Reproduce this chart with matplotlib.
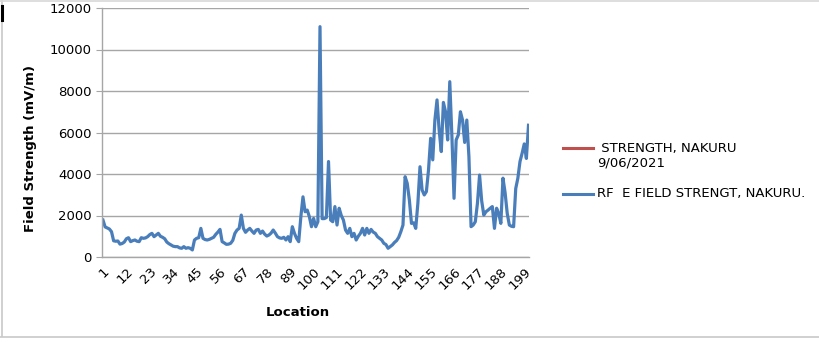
import numpy as np
import matplotlib
matplotlib.use("Agg")
import matplotlib.pyplot as plt
from matplotlib.lines import Line2D

# field strength readings (mV/m), one per location 1..201
strength = [
    1780, 1450, 1400, 1350, 1220, 780, 760, 770, 620, 650,
    720, 880, 930, 740, 790, 820, 760, 740, 930, 900,
    920, 980, 1080, 1140, 980, 1060, 1140, 1000, 950, 880,
    720, 640, 580, 520, 500, 500, 440, 420, 500, 420,
    450, 420, 340, 820, 900, 930, 1380, 900, 840, 820,
    850, 900, 950, 1090, 1200, 1330, 740, 680, 610, 620,
    660, 800, 1140, 1300, 1380, 2020, 1380, 1190, 1300, 1380,
    1250, 1140, 1300, 1330, 1140, 1250, 1100, 1010, 1060, 1150,
    1300, 1150, 980, 920, 900, 950, 820, 980, 740, 1460,
    1140, 900, 740, 1940, 2900, 2180, 2260, 1940, 1460, 1860,
    1460, 1700, 11100, 1850, 1850, 1900, 4600, 1780, 1700, 2430,
    1540, 2350, 2000, 1780, 1300, 1140, 1380, 980, 1140, 820,
    1000, 1140, 1380, 1060, 1380, 1140, 1330, 1200, 1140, 980,
    900, 820, 660, 600, 420, 500, 580, 700, 790, 950,
    1220, 1540, 3870, 3550, 2750, 1620, 1650, 1380, 2590, 4350,
    3230, 2990, 3150, 4190, 5720, 4680, 6600, 7570, 6120, 5080,
    7450, 7000, 5640, 8450, 5800, 2830, 5640, 5880, 7000, 6600,
    5520, 6600, 4830, 1460, 1540, 1700, 2590, 3950, 2700, 2020,
    2180, 2260, 2350, 2430, 1380, 2350, 2100, 1620, 3800, 3100,
    2100, 1540, 1480, 1460, 3300, 3800, 4600, 5000, 5450, 4750,
    6350,
]
locations = np.arange(1, len(strength) + 1)
xticks = list(range(1, 200, 11))
yticks = list(range(0, 12001, 2000))

label_red = " STRENGTH, NAKURU\n9/06/2021"
label_blue = "RF  E FIELD STRENGT, NAKURU."

BLUE = "#4a7ebb"
RED = "#c0504d"
GRID = "#a6a6a6"

fig = plt.figure(figsize=(8.19, 3.44), dpi=100)
ax = fig.add_axes([101.5 / 819, 87 / 344, 427 / 819, 249 / 344])

ax.plot(locations, strength, color=BLUE, lw=2.3, solid_joinstyle="round")

ax.set_xlim(0.3, 201)
ax.set_ylim(0, 12000)
ax.set_yticks(yticks)
ax.set_xticks(xticks)
ax.set_xticklabels([str(t) for t in xticks], rotation=45, ha="right",
                   rotation_mode="anchor", fontsize=9.5)
ax.tick_params(axis="x", length=0, pad=6)
ax.tick_params(axis="y", length=4, color=GRID, pad=3, labelsize=9.5)
ax.yaxis.grid(True, color=GRID, lw=1.0)
ax.set_axisbelow(True)
for s in ["top", "right"]:
    ax.spines[s].set_visible(False)
for s in ["left", "bottom"]:
    ax.spines[s].set_color(GRID)
    ax.spines[s].set_linewidth(1.0)

fig.text(31 / 819, 1 - 148 / 344, "Field Strength (mV/m)", rotation=90,
         ha="center", va="center", fontsize=9.5, fontweight="bold")
fig.text(298 / 819, 1 - 313 / 344, "Location", ha="center", va="center",
         fontsize=9.5, fontweight="bold")

# legend drawn by hand so the red key sits on the first text line
fig.add_artist(Line2D([563 / 819, 593 / 819], [1 - 148 / 344] * 2,
                      color=RED, lw=2.2, transform=fig.transFigure))
fig.text(597 / 819, 1 - 155.5 / 344, label_red, ha="left", va="center",
         fontsize=9.5, linespacing=1.15)
fig.add_artist(Line2D([563 / 819, 593 / 819], [1 - 194 / 344] * 2,
                      color=BLUE, lw=2.2, transform=fig.transFigure))
fig.text(597 / 819, 1 - 194 / 344, label_blue, ha="left", va="center",
         fontsize=9.5)

# chart frame from the spreadsheet
fig.add_artist(Line2D([2 / 819, 2 / 819], [1 - 336 / 344, 1], color="#c8c8c8",
                      lw=1.2, transform=fig.transFigure))
fig.add_artist(Line2D([0, 1], [1 - 336.5 / 344] * 2, color="#c8c8c8",
                      lw=1.2, transform=fig.transFigure))
fig.add_artist(Line2D([0, 1], [1 - 0.5 / 344] * 2, color="#d8d8d8",
                      lw=1.2, transform=fig.transFigure))
fig.add_artist(Line2D([1.5 / 819, 1.5 / 819], [1 - 20 / 344, 1 - 6 / 344],
                      color="black", lw=2.2, transform=fig.transFigure))

fig.savefig("out.png", dpi=100)
